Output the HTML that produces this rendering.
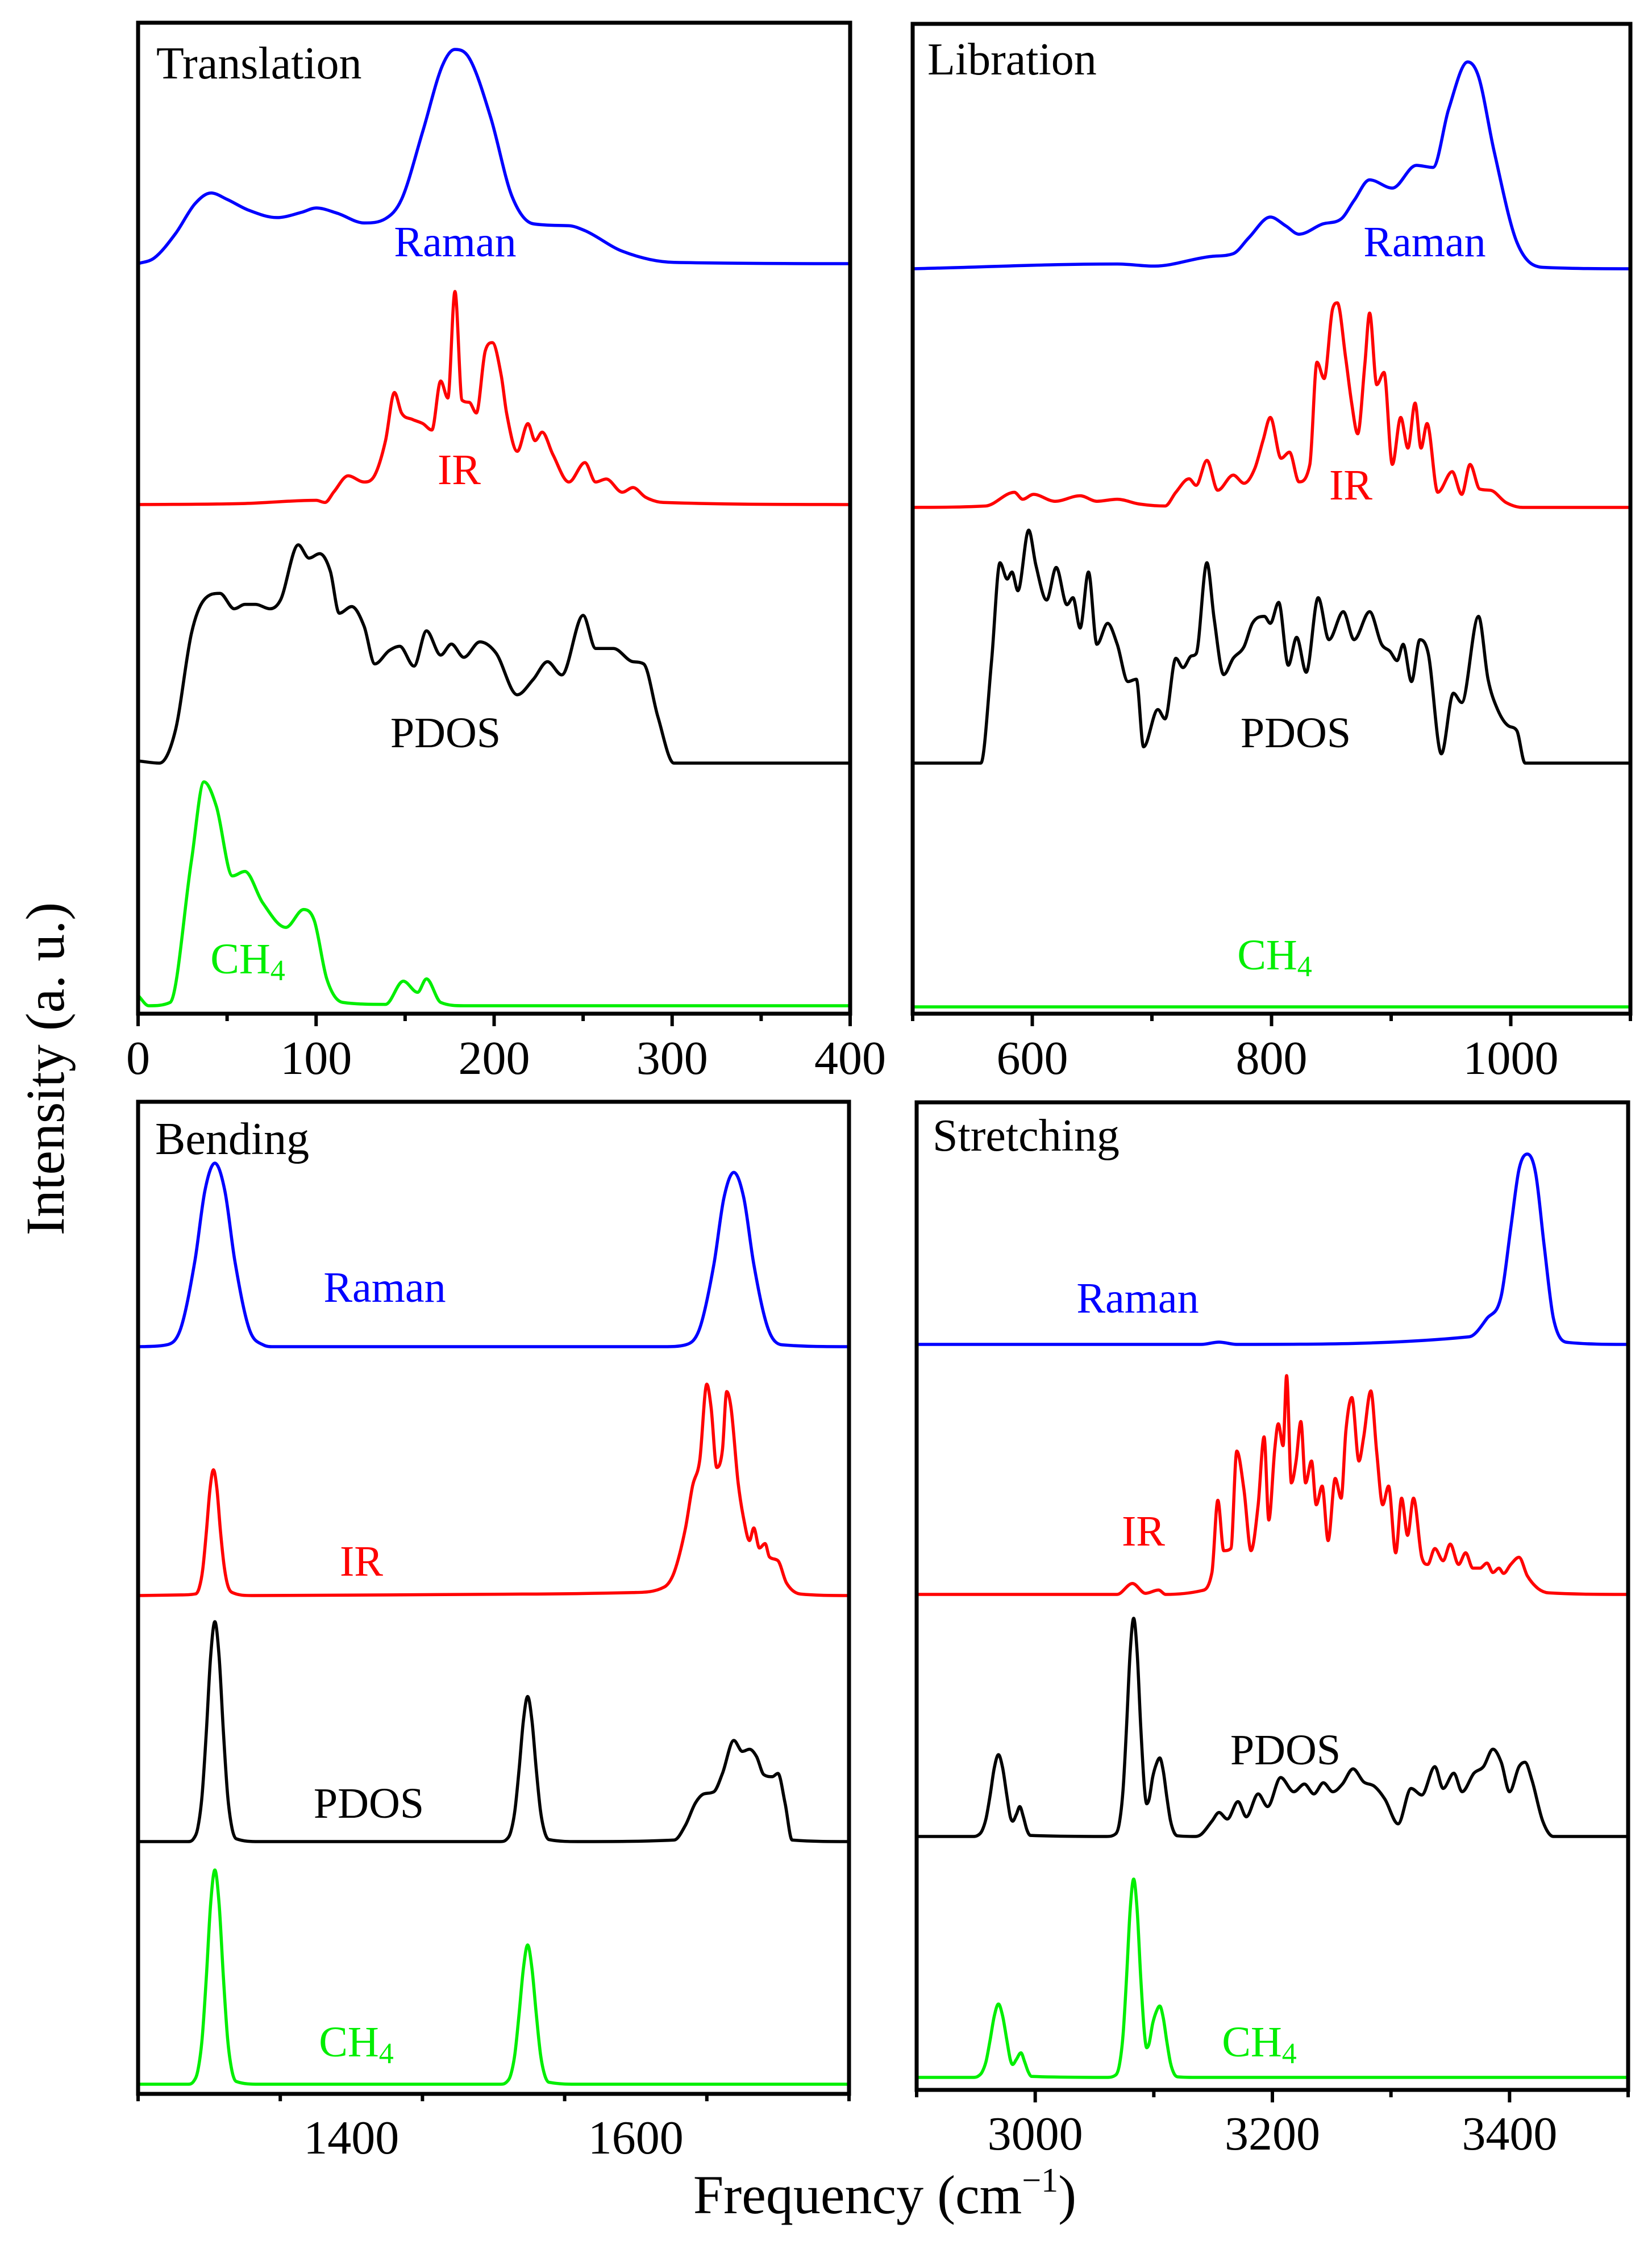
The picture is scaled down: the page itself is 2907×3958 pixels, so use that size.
<!DOCTYPE html>
<html><head><meta charset="utf-8"><style>
html,body{margin:0;padding:0;background:#fff;}
svg{display:block;}
text{font-family:"Liberation Serif",serif;}
</style></head><body>
<svg id="fig" width="2907" height="3958" viewBox="0 0 2907 3958" xmlns="http://www.w3.org/2000/svg"></svg>
<script>
// ---------- DATA (frequency in cm^-1, intensity in relative %) ----------
const tlRamanFreq=[0,9,21,32,41,50,62,78,92,100,112,127,139,148,160,171,178,186,198,210,222,242,251,272,301,400];
const tlRamanVal=[0,2.6,14,28,33,30,25,21.5,24,26,23.5,19,21,30,62,92.6,100,96,68.5,31.5,18.6,17.7,15.4,5.8,0.6,0];
const tlIRFreq=[0,60,100,105,110,118,127,133,139,144,148,154,160,165,170,174,178,182,186,190,195,199,204,207,213,219,223,227,233,242,251,257,263,272,278,285,295,400];
const tlIRVal=[0,0.5,2,1,6,13.5,10.6,13.9,30,52.6,43,40,38,35,58,50,100,49,48,43,72,76,60.6,43,25,38,30,34,23.5,10.6,19.7,10.6,12,5.8,8,3.5,1,0];
const tlPDOSFreq=[0,12,21,30,37,46,54,60,66,74,80,90,96,102,108,113,120,127,133,141,147,155,162,170,176,183,192,201,213,222,230,238,250,257,267,278,284,292,301,400];
const tlPDOSVal=[1,0,15,59,74,77,70,72,72,70,74,99,93,95,87,68,71,62,45,51,53,44,60,49,54,48,55,50,31,38,46,40,67,52,52,46,45,21,0,0];
const tlCH4Freq=[0,6,18,30,37,44,53,60,70,83,93,99,106,115,139,149,157,162,170,183,400];
const tlCH4Val=[4.6,0,1.5,65,100,89,58,60,46,35,43,38,12,1.5,0.6,11,6,12,1.5,0,0];

const trRamanFreq=[500,671,702,750,768,781,799,812,823,843,858,869,882,901,921,935,948,964,973,986,1005,1027,1100];
const trRamanVal=[0,2.3,1.3,6,7.3,15,25,20.7,16.7,21.7,24,33,43,39,50,49,77,100,93,57,13,0.7,0];
const trIRFreq=[500,561,585,592,601,619,640,654,671,689,711,720,731,737,746,755,768,777,786,793,799,808,815,823,832,838,844,851,855,862,867,872,878,882,888,894,901,908,914,920,925,930,939,951,959,966,974,983,996,1010,1100];
const trIRVal=[0,0.7,7.4,4,6.4,3,5.7,3,4,1.7,0.7,7.4,14,10.8,23,8.4,15.8,11.8,19,33,44,24,27,12.5,21,71,63,97,100,73,51,36,70,95,60,66,21,44,29,51,29,41,7.4,17.5,6.4,21,9,8.4,2.4,0,0];
const trPDOSFreq=[500,557,566,573,579,583,588,597,603,612,620,629,634,640,647,654,663,671,680,687,693,705,711,720,726,733,737,746,752,760,768,777,784,794,799,806,814,821,829,839,848,860,869,882,892,899,905,910,917,924,931,942,952,959,973,981,989,998,1005,1012,1100];
const trPDOSVal=[0,0,44,86,79,82,74,100,85,70,84,68,71,58,82,51,60,51,35,36,7,23,19,45,41,46,47,86,62,38,45,50,60,63,60,69,42,54,39,71,53,65,53,65,51,48,44,51,35,53,47,4,30,26,63,36,23,16,14,0,0];
const trCH4Freq=[500,1100];
const trCH4Val=[0,0];

const blRamanFreq=[1250,1270,1280,1290,1297,1304,1311,1318,1328,1338,1345,1620,1635,1645,1655,1662,1669,1676,1683,1693,1703,1750];
const blRamanVal=[0,1,10,47,85,100,85,47,10,1,0,0,1,10,45,81,95,81,45,10,1,0];
const blIRFreq=[1250,1280,1290.5,1293,1295.5,1298,1300.5,1303,1305.5,1308,1310.5,1313,1316,1330,1520,1598,1620,1627,1635,1640,1645,1650,1653,1657,1661,1664,1667,1672,1676,1680,1683,1687,1691,1694,1700,1706,1716,1750];
const blIRVal=[0,0.3,0.8,3.7,12.5,30,50,59.5,50,30,14,5,1.5,0,0.7,1.4,4,11,32,52,64,100,89,60.6,69,96.5,89,53.5,36,26,32,22.5,24.6,18.3,16.5,6,0.7,0];
const blPDOSFreq=[1250,1285,1289,1292,1295,1298,1301,1304,1307,1310,1313,1316,1319,1335,1505,1509,1512,1515,1518,1521,1524,1527,1530,1533,1536,1539,1560,1627,1635,1642,1648,1655,1661,1669,1675,1680,1685,1690,1696,1700,1705,1710,1750];
const blPDOSVal=[0,0,1.3,6.3,21,50,84,100,84,50,21,6.3,1.3,0,0,0.9,4.2,14,33,55,66,55,33,14,4.2,0.9,0,0.7,7.5,17.6,21.7,22.7,31,46,41,42,38.6,30.5,29.5,31,17.6,0.7,0];
const blCH4Freq=[1250,1285,1289,1292,1295,1298,1301,1304,1307,1310,1313,1316,1319,1335,1505,1509,1512,1515,1518,1521,1524,1527,1530,1533,1536,1539,1560,1750];
const blCH4Val=[0,0,1.3,6.3,21,50,84,100,84,50,21,6.3,1.3,0,0,0.9,4.2,14,33,54,65,54,33,14,4.2,0.9,0,0];

const brRamanFreq=[2900,3140,3155,3170,3366,3381,3393,3401,3408,3415,3422,3429,3437,3450,3500];
const brRamanVal=[0,0,1.2,0,4,13.7,25.5,61,92,100,90,53,13.7,1,0];
const brIRFreq=[2900,3069,3082,3093,3104,3110,3140,3149,3154,3159,3165,3170,3176,3182,3188,3193,3197,3202,3205,3209,3212,3216,3220,3224,3228,3233,3237,3242,3247,3253,3258,3262,3267,3273,3277,3283,3288,3293,3298,3304,3309,3314,3319,3326,3331,3337,3344,3350,3357,3363,3369,3375,3381,3386,3391,3395,3401,3408,3415,3424,3433,3500];
const brIRVal=[0,0,5,0.5,2,0,1.7,10,43,20,21,65.5,48,20,41,72,34,66.5,78,68,100,51,61,79,51,61,41,49.5,24.6,53,44,75,90,61,72,93,65,41,49.5,19,44,27,44,17,13.7,21,15.4,23,13.7,19,12,12,14.3,10,12,9.6,13.7,17,8.5,2.7,0.7,0];
const brPDOSFreq=[2900,2948,2951.5,2955,2958.5,2962,2965.5,2969,2972.5,2976,2979,2981,2984,2987,2990,2993,2996,3060,3068,3071,3074,3077,3080,3083,3086,3089,3092,3094,3096,3099,3102,3105,3108,3111,3114,3117,3120,3135,3140,3149,3155,3162,3171,3178,3188,3196,3207,3218,3227,3235,3243,3251,3259,3268,3277,3286,3295,3306,3317,3326,3337,3344,3353,3360,3370,3378,3386,3393,3400,3408,3413,3419,3428,3437,3500];
const brPDOSVal=[0,0,0.5,2.5,8.2,19,31.5,37.5,31.5,19,9,7,10,13.7,9,3,0.5,0,1.3,6.3,21,50,84,100,84,50,23,15,17,27,33,36,30,18,7.5,2,0.3,0,1,7,11,8,16,9,19.5,13.7,27,20.5,24,19.5,24.6,20.5,24,31,25,23,17,5.8,22,19,32,22,29,20.5,29,32,40,34,20.5,32,34,25.6,7,0,0];
const brCH4Freq=[2900,2948,2951.5,2955,2958.5,2962,2965.5,2969,2972.5,2976,2979,2981,2984,2988,2991,2994,2997,3060,3068,3071,3074,3077,3080,3083,3086,3089,3092,3094,3096,3099,3102,3105,3108,3111,3114,3117,3120,3135,3500];
const brCH4Val=[0,0,0.5,2.5,8,19,31,37,31,19,9,6.5,9,12.4,8,3,0.5,0,1.3,6.3,21,50,84,100,84,50,23,15,17,27,33,36,30,18,7.5,2,0.3,0,0];

// tick labels
const tlTicks=[0,100,200,300,400];
const trTicks=[600,800,1000];
const blTicks=[1400,1600];
const brTicks=[3000,3200,3400];

// ---------- RENDERING ----------
const NS="http://www.w3.org/2000/svg";
const svg=document.getElementById('fig');
function mk(tag,attrs,parent){const e=document.createElementNS(NS,tag);for(const k in attrs)e.setAttribute(k,attrs[k]);(parent||svg).appendChild(e);return e;}

const panels={
 tl:{x0:243,x1:1496,y0:40,y1:1784,f0:0,f1:400,minor:50,ticks:tlTicks,title:'Translation',tx:275,ty:138,name:'translation-panel'},
 tr:{x0:1606,x1:2869,y0:42,y1:1784,f0:500,f1:1100,minor:100,ticks:trTicks,title:'Libration',tx:1632,ty:131,name:'libration-panel'},
 bl:{x0:243,x1:1494,y0:1939,y1:3685,f0:1250,f1:1750,minor:100,ticks:blTicks,title:'Bending',tx:273,ty:2031,name:'bending-panel'},
 br:{x0:1613,x1:2865,y0:1940,y1:3678,f0:2900,f1:3500,minor:100,ticks:brTicks,title:'Stretching',tx:1641,ty:2025,name:'stretching-panel'}
};
function xs(p,f){return p.x0+(f-p.f0)/(p.f1-p.f0)*(p.x1-p.x0);}

// monotone cubic (Fritsch-Carlson) path: no overshoot, no loops
function smooth(pts){
 const n=pts.length;
 const d=[],m=new Array(n).fill(0);
 for(let i=0;i<n-1;i++){const h=pts[i+1][0]-pts[i][0];d.push(h>0?(pts[i+1][1]-pts[i][1])/h:0);}
 m[0]=d[0];m[n-1]=d[n-2];
 for(let i=1;i<n-1;i++){m[i]=(d[i-1]*d[i]<=0)?0:(d[i-1]+d[i])/2;}
 for(let i=0;i<n-1;i++){
  if(d[i]===0){m[i]=0;m[i+1]=0;continue;}
  const a=m[i]/d[i],b=m[i+1]/d[i];const s=a*a+b*b;
  if(s>9){const t=3/Math.sqrt(s);m[i]=t*a*d[i];m[i+1]=t*b*d[i];}
 }
 let p='M'+pts[0][0].toFixed(1)+','+pts[0][1].toFixed(1);
 for(let i=0;i<n-1;i++){
  const h=(pts[i+1][0]-pts[i][0])/3;
  p+=' C'+(pts[i][0]+h).toFixed(1)+','+(pts[i][1]+m[i]*h).toFixed(1)+' '+(pts[i+1][0]-h).toFixed(1)+','+(pts[i+1][1]-m[i+1]*h).toFixed(1)+' '+pts[i+1][0].toFixed(1)+','+pts[i+1][1].toFixed(1);
 }
 return p;
}
function drawSeries(p,g,freq,val,color,base,top,name){
 const pts=freq.map((f,i)=>[xs(p,f),base-val[i]/100*(base-top)]);
 const path=mk('path',{d:smooth(pts),fill:'none',stroke:color,'stroke-width':5.5,'stroke-linejoin':'round'},g);
 
 
}
function label(g,txt,x,y,color,anchor,name,size){
 const t=mk('text',{x:x,y:y,fill:color,'font-size':size||76,'text-anchor':anchor||'middle'},g);
 t.textContent=txt;
 
 
 return t;
}
function ch4(g,x,y,name){
 const t=mk('text',{x:x,y:y,fill:'#00ee00','font-size':76,'text-anchor':'middle'},g);
 
 
 const a=mk('tspan',{},t);a.textContent='CH';
 const b=mk('tspan',{'font-size':52,dy:12},t);b.textContent='4';
}

const B='#0000ff',R='#ff0000',K='#000000',G='#00ee00';
const series={
 tl:[[tlRamanFreq,tlRamanVal,B,464,87,'raman'],[tlIRFreq,tlIRVal,R,888,513,'ir'],[tlPDOSFreq,tlPDOSVal,K,1343,955,'pdos'],[tlCH4Freq,tlCH4Val,G,1770,1376,'ch4']],
 tr:[[trRamanFreq,trRamanVal,B,473,109,'raman'],[trIRFreq,trIRVal,R,893,533,'ir'],[trPDOSFreq,trPDOSVal,K,1343,933,'pdos'],[trCH4Freq,trCH4Val,G,1772,1400,'ch4']],
 bl:[[blRamanFreq,blRamanVal,B,2370,2047,'raman'],[blIRFreq,blIRVal,R,2808,2436,'ir'],[blPDOSFreq,blPDOSVal,K,3241,2854,'pdos'],[blCH4Freq,blCH4Val,G,3668,3291,'ch4']],
 br:[[brRamanFreq,brRamanVal,B,2366,2031,'raman'],[brIRFreq,brIRVal,R,2806,2421,'ir'],[brPDOSFreq,brPDOSVal,K,3232,2848,'pdos'],[brCH4Freq,brCH4Val,G,3656,3307,'ch4']]
};
const labels={
 tl:[['Raman',801,451,B],['IR',808,852,R],['PDOS',784,1315,K],['CH4',436,1713,G]],
 tr:[['Raman',2507,451,B],['IR',2377,879,R],['PDOS',2280,1315,K],['CH4',2243,1706,G]],
 bl:[['Raman',677,2291,B],['IR',636,2773,R],['PDOS',649,3199,K],['CH4',627,3619,G]],
 br:[['Raman',2002,2310,B],['IR',2012,2720,R],['PDOS',2262,3105,K],['CH4',2216,3619,G]]
};

for(const key in panels){
 const p=panels[key];
 const g=mk('g',{});
 
 
 series[key].forEach(s=>drawSeries(p,g,s[0],s[1],s[2],s[3],s[4],key+'-'+s[5]+'-line'));
 const fr=mk('rect',{x:p.x0,y:p.y0,width:p.x1-p.x0,height:p.y1-p.y0,fill:'none',stroke:'#000','stroke-width':7},g);
 
 
 for(let f=p.f0;f<=p.f1+0.001;f+=p.minor){
  const major=p.ticks.indexOf(f)>=0;
  const x=xs(p,f);
  const t=mk('line',{x1:x,x2:x,y1:p.y1,y2:p.y1+(major?22:13),stroke:'#000','stroke-width':6},g);
  
  
 }
 p.ticks.forEach(f=>{
  label(g,String(f),xs(p,f),p.y1+(key[0]==='t'?106:105),'#000','middle','x-tick-label',84);
 });
 label(g,p.title,p.tx,p.ty,'#000','start','panel-title',80);
 labels[key].forEach(l=>{
  if(l[0]==='CH4') ch4(g,l[1],l[2],key+'-ch4-label');
  else label(g,l[0],l[1],l[2],l[3],'middle',key+'-'+l[0].toLowerCase()+'-label');
 });
}
const xt=mk('text',{x:1557,y:3895,'font-size':96,'text-anchor':'middle',fill:'#000'});


const xa=mk('tspan',{},xt);xa.textContent='Frequency (cm';
const xb=mk('tspan',{'font-size':60,dy:-38},xt);xb.textContent='−1';
const xc=mk('tspan',{dy:38},xt);xc.textContent=')';
const yt=mk('text',{x:0,y:0,'font-size':96,'text-anchor':'middle',fill:'#000',transform:'translate(112,1881) rotate(-90)'});
yt.textContent='Intensity (a. u.)';


</script>
</body></html>
